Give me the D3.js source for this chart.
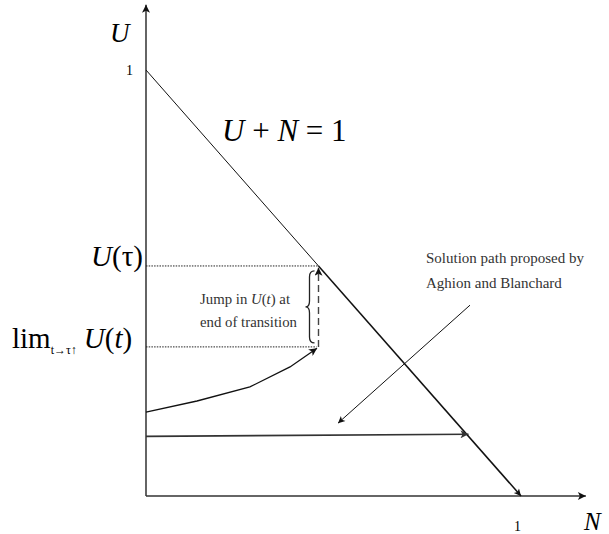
<!DOCTYPE html>
<html>
<head>
<meta charset="utf-8">
<script src="https://cdn.jsdelivr.net/npm/d3@7"></script>
<style>
  html, body { margin: 0; padding: 0; background: #fff; }
  svg text { font-family: "Liberation Serif", "DejaVu Serif", serif; }
</style>
</head>
<body>
<div id="chart"></div>
<script>
// ---- data (N on x, U on y, both in [0, 1]) ----
const axisMax = { n: 1.173, u: 1.153 };          // axis arrow tips
const budgetLine = [[0, 1], [1, 0]];              // U + N = 1
const uTau = 0.54;                                // U(tau)
const uLim = 0.35;                                // lim t->tau U(t)
const transitionPath = [[0, 0.197], [0.136, 0.223], [0.277, 0.256], [0.384, 0.303], [0.456, 0.347]];
const horizontalPath = [[0, 0.14], [0.86, 0.145]];
const calloutArrow = [[0.864, 0.448], [0.512, 0.171]];
const calloutText = ["Solution path proposed by", "Aghion and Blanchard"];
const jumpText = ["end of transition"];

const width = 609, height = 534;
const serif = "'Liberation Serif', 'DejaVu Serif', serif";

const svg = d3.select("#chart").append("svg")
  .attr("width", width)
  .attr("height", height)
  .attr("font-family", serif);

// origin at (146, 496); N = 1 at x = 521, U = 1 at y = 70
const x = d3.scaleLinear().domain([0, 1]).range([146, 521]);
const y = d3.scaleLinear().domain([0, 1]).range([496, 70]);

const line = d3.line().x(d => x(d[0])).y(d => y(d[1]));

// arrowhead markers
const defs = svg.append("defs");
function marker(id, color, w, h) {
  defs.append("marker")
    .attr("id", id)
    .attr("viewBox", "0 0 10 10")
    .attr("refX", 10).attr("refY", 5)
    .attr("markerUnits", "userSpaceOnUse")
    .attr("markerWidth", w).attr("markerHeight", h)
    .attr("orient", "auto")
    .append("path")
    .attr("d", "M0,0 L10,5 L0,10 L2.5,5 z")
    .attr("fill", color);
}
marker("arrow", "#111", 11, 8);
marker("arrowGray", "#333", 11, 8);
marker("arrowSmall", "#111", 9, 7);

// axes
svg.append("path")
  .attr("d", line([[0, 0], [0, axisMax.u]]))
  .attr("stroke", "#111").attr("stroke-width", 1.3).attr("fill", "none")
  .attr("marker-end", "url(#arrow)");
svg.append("path")
  .attr("d", line([[0, 0], [axisMax.n, 0]]))
  .attr("stroke", "#333").attr("stroke-width", 1.3).attr("fill", "none")
  .attr("marker-end", "url(#arrow)");

// U + N = 1, thin part above U(tau)
svg.append("path")
  .attr("d", line([budgetLine[0], [1 - uTau, uTau]]))
  .attr("stroke", "#111").attr("stroke-width", 1).attr("fill", "none");

// thicker solution part from U(tau) down to N = 1
svg.append("path")
  .attr("d", line([[1 - uTau, uTau], budgetLine[1]]))
  .attr("stroke", "#111").attr("stroke-width", 1.5).attr("fill", "none")
  .attr("marker-end", "url(#arrowSmall)");

// dotted reference lines
[[uTau, 1 - uTau], [uLim, 1 - uTau - 0.005]].forEach(([u, n]) => {
  svg.append("path")
    .attr("d", line([[0, u], [n, u]]))
    .attr("stroke", "#222").attr("stroke-width", 1)
    .attr("stroke-dasharray", "1.5,1.2").attr("fill", "none");
});

// dashed jump arrow
svg.append("path")
  .attr("d", line([[1 - uTau, uLim], [1 - uTau, uTau - 0.004]]))
  .attr("stroke", "#444").attr("stroke-width", 1.4)
  .attr("stroke-dasharray", "7,4").attr("fill", "none")
  .attr("marker-end", "url(#arrow)");

// transition path (curve)
svg.append("path")
  .attr("d", line(transitionPath))
  .attr("stroke", "#111").attr("stroke-width", 1.3).attr("fill", "none")
  .attr("marker-end", "url(#arrow)");

// horizontal path
svg.append("path")
  .attr("d", line(horizontalPath))
  .attr("stroke", "#333").attr("stroke-width", 1.6).attr("fill", "none")
  .attr("marker-end", "url(#arrowGray)");

// callout arrow
svg.append("path")
  .attr("d", line(calloutArrow))
  .attr("stroke", "#111").attr("stroke-width", 1).attr("fill", "none")
  .attr("marker-end", "url(#arrowSmall)");

// curly brace
const bx = x(1 - uTau) - 9;
const bTop = y(uTau) + 5, bBot = y(uLim) - 4, bMid = (bTop + bBot) / 2;
svg.append("path")
  .attr("d", `M${bx + 5},${bTop} Q${bx},${bTop} ${bx},${bTop + 6} L${bx},${bMid - 6} Q${bx},${bMid} ${bx - 4},${bMid} Q${bx},${bMid} ${bx},${bMid + 6} L${bx},${bBot - 6} Q${bx},${bBot} ${bx + 5},${bBot}`)
  .attr("stroke", "#222").attr("stroke-width", 1.3).attr("fill", "none");

// ---- labels ----
svg.append("text")
  .attr("x", 110).attr("y", 42)
  .style("font-size", "27px").style("font-style", "italic")
  .text("U");
svg.append("text")
  .attr("x", x(0) - 13).attr("y", y(1) + 5)
  .attr("text-anchor", "end")
  .style("font-size", "14px")
  .text("1");
svg.append("text")
  .attr("x", x(1) - 7).attr("y", 531)
  .style("font-size", "14px")
  .text("1");
svg.append("text")
  .attr("x", 584).attr("y", 530)
  .style("font-size", "25px").style("font-style", "italic")
  .text("N");

// U + N = 1
const eq = svg.append("text")
  .attr("x", 222).attr("y", 141)
  .style("font-size", "31px");
eq.append("tspan").style("font-style", "italic").text("U");
eq.append("tspan").text(" + ");
eq.append("tspan").style("font-style", "italic").text("N");
eq.append("tspan").text(" = 1");

// U(tau)
const ut = svg.append("text")
  .attr("x", 143).attr("y", y(uTau))
  .attr("text-anchor", "end")
  .style("font-size", "29px");
ut.append("tspan").style("font-style", "italic").text("U");
ut.append("tspan").text("(τ)");

// lim_{t -> tau up} U(t)
const lim = svg.append("text")
  .attr("x", 12).attr("y", y(uLim) + 1)
  .style("font-size", "29px");
lim.append("tspan").text("lim");
lim.append("tspan").attr("dy", 6).style("font-size", "12px").text("t→τ↑");
lim.append("tspan").attr("dy", -6).attr("dx", 7).style("font-style", "italic").text("U");
lim.append("tspan").text("(");
lim.append("tspan").style("font-style", "italic").text("t");
lim.append("tspan").text(")");

// jump annotation
const j1 = svg.append("text")
  .attr("x", 200).attr("y", 304)
  .attr("fill", "#333")
  .style("font-size", "14.8px");
j1.append("tspan").text("Jump in ");
j1.append("tspan").style("font-style", "italic").text("U");
j1.append("tspan").text("(");
j1.append("tspan").style("font-style", "italic").text("t");
j1.append("tspan").text(") at");
svg.append("text")
  .attr("x", 200).attr("y", 327)
  .attr("fill", "#333")
  .style("font-size", "14.8px")
  .text(jumpText[0]);

// callout text
svg.selectAll(".callout")
  .data(calloutText)
  .enter()
  .append("text")
  .attr("class", "callout")
  .attr("x", 426)
  .attr("y", (d, i) => 263 + i * 25)
  .attr("fill", "#333")
  .style("font-size", "15px")
  .text(d => d);
</script>
</body>
</html>
